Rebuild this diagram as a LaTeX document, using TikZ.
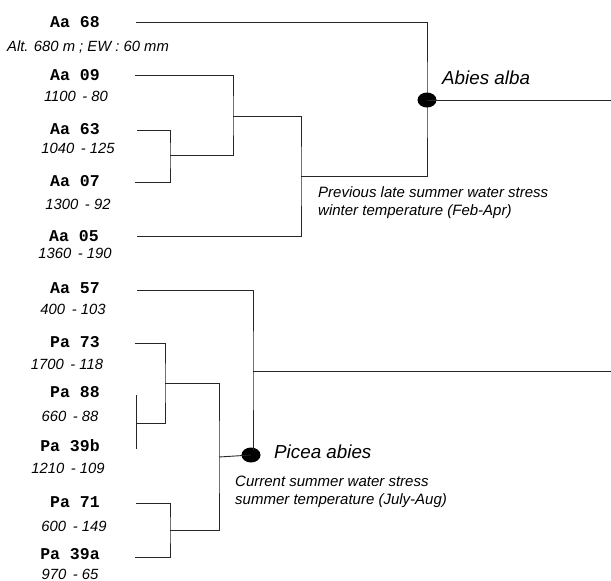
\documentclass[tikz,border=0pt]{standalone}
\usepackage{fontspec}
\usetikzlibrary{shapes.geometric}
\setmainfont{Liberation Sans}
\newfontfamily\codefont{Liberation Mono}
\begin{document}
\begin{tikzpicture}[x=1pt,y=-1pt,
  leaf/.style={font=\codefont\bfseries\fontsize{16.5}{18}\selectfont, inner sep=0pt, anchor=center},
  info/.style={font=\itshape\fontsize{14.8}{17}\selectfont, inner sep=0pt, anchor=center},
  species/.style={font=\itshape\fontsize{18.8}{21}\selectfont, inner sep=0pt, anchor=west},
  note/.style={font=\itshape\fontsize{15}{17}\selectfont, inner sep=0pt, anchor=west},
  branch/.style={draw=black!85, line width=0.9pt},
  dot/.style={ellipse, fill=black, minimum width=19pt, minimum height=15pt, inner sep=0pt}]
\useasboundingbox (0,0) rectangle (611,581);
% Abies alba group labels
\node[leaf] (aa68) at (75,22) {Aa 68};
\node[info] (aa68i) at (88,47) {Alt. 680 m ; EW : 60 mm};
\node[leaf] (aa09) at (75,75) {Aa 09};
\node[info] (aa09i) at (76,96) {1100\,\ - 80};
\node[leaf] (aa63) at (75,129) {Aa 63};
\node[info] (aa63i) at (78,148) {1040\,\ - 125};
\node[leaf] (aa07) at (75,181) {Aa 07};
\node[info] (aa07i) at (78,204) {1300\,\ - 92};
\node[leaf] (aa05) at (74,236) {Aa 05};
\node[info] (aa05i) at (75,253) {1360\,\ - 190};
% Picea group labels
\node[leaf] (aa57) at (75,288) {Aa 57};
\node[info] (aa57i) at (73,309) {400\,\ - 103};
\node[leaf] (pa73) at (75,342) {Pa 73};
\node[info] (pa73i) at (67,364) {1700\,\ - 118};
\node[leaf] (pa88) at (75,392) {Pa 88};
\node[info] (pa88i) at (70,416) {660\,\ - 88};
\node[leaf] (pa39b) at (70,446) {Pa 39b};
\node[info] (pa39bi) at (68,468) {1210\,\ - 109};
\node[leaf] (pa71) at (75,502) {Pa 71};
\node[info] (pa71i) at (74,526) {600\,\ - 149};
\node[leaf] (pa39a) at (70,554) {Pa 39a};
\node[info] (pa39ai) at (70,574) {970\,\ - 65};
% coordinates of branch tips
\coordinate (t68) at (136,22);
\coordinate (t09) at (135,75);
\coordinate (t63) at (137,130);
\coordinate (t07) at (135,182);
\coordinate (t05) at (137,236);
\coordinate (t57) at (137,290);
\coordinate (t73) at (135,343);
\coordinate (t88) at (136,395);
\coordinate (t39b) at (136,449);
\coordinate (t71) at (136,503);
\coordinate (t39a) at (135,557);
\coordinate (r1) at (611,100);
\coordinate (r2) at (611,371);
% Abies tree
\draw[branch] (t63) -| (170,155) coordinate (j1) |- (t07);
\draw[branch] (t09) -| (233,116) coordinate (j2) |- (j1);
\draw[branch] (j2) -| (301,176) coordinate (j3) |- (t05);
\draw[branch] (t68) -| (427,100) coordinate (j4) |- (j3);
\node[dot] (abies) at (427,100) {};
\draw[branch] (abies.center) -- (r1);
\node[species] (abiesl) at (442,78) {Abies alba};
\node[note, align=left] (abiesn) at (318,203) {Previous late summer water stress\\[1pt]winter temperature (Feb-Apr)};
% Picea tree
\draw[branch] (t88) -- (t39b);
\draw[branch] (t73) -| (165,383) coordinate (k1) |- (136,423);
\draw[branch] (t71) -| (170,530) coordinate (k2) |- (t39a);
\draw[branch] (k1) -| (219,457) coordinate (k3) |- (k2);
\node[dot] (picea) at (251,455) {};
\draw[branch] (k3) -- (picea.center);
\draw[branch] (t57) -| (253,371) coordinate (k4) -- (253,450);
\draw[branch] (k4) -- (r2);
\node[species] (picel) at (274,452) {Picea abies};
\node[note, align=left] (picen) at (235,492) {Current summer water stress\\[1pt]summer temperature (July-Aug)};
\end{tikzpicture}
\end{document}
